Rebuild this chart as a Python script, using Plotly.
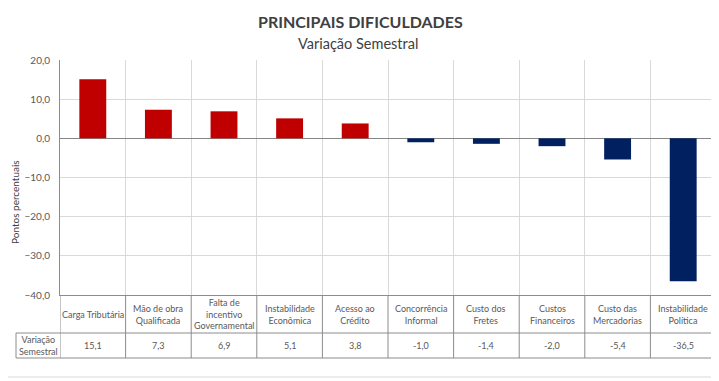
import plotly.graph_objects as go

categories = ["Carga Tributária", "Mão de obra<br>Qualificada", "Falta de<br>incentivo<br>Governamental",
              "Instabilidade<br>Econômica", "Acesso ao<br>Crédito", "Concorrência<br>Informal",
              "Custo dos<br>Fretes", "Custos<br>Financeiros", "Custo das<br>Mercadorias",
              "Instabilidade<br>Política"]
values = [15.1, 7.3, 6.9, 5.1, 3.8, -1.0, -1.4, -2.0, -5.4, -36.5]
series_name = "Variação<br>Semestral"
y_ticks = [-40, -30, -20, -10, 0, 10, 20]

# the page body has an 8px margin: lay out in window pixels and shift
OFF = 8
W, H = 719 - OFF, 381 - OFF
PL, PR, PT, PB = 60, 716, 60, 295  # plot area in window pixels
ML, MT = PL - OFF, PT - OFF
MR, MB = W - (PR - OFF), H - (PB - OFF)
PW, PH = W - ML - MR, H - MT - MB

def px_x(x):
    return (x - OFF - ML) / PW

def px_y(y):
    return 1 - (y - OFF - MT) / PH

FONT = "Lato, 'Open Sans', sans-serif"
GRAY_TXT = "#595959"
TBL = "#8c8c8c"
n = len(values)
xs = list(range(n))
colors = ["#C00000" if v >= 0 else "#002060" for v in values]

fig = go.Figure(go.Bar(x=xs, y=values, marker=dict(color=colors, line=dict(width=0)), width=0.41))

fig.update_layout(
    width=W, height=H, margin=dict(l=ML, r=MR, t=MT, b=MB),
    paper_bgcolor="white", plot_bgcolor="white", showlegend=False,
    separators=",.", font=dict(family=FONT, color=GRAY_TXT),
)
fig.update_xaxes(range=[-0.5, n - 0.5], tickvals=[i - 0.5 for i in range(n + 1)],
                 showticklabels=False, showgrid=True, gridcolor="#d9d9d9", gridwidth=1,
                 showline=True, linecolor=TBL, linewidth=1, zeroline=False, ticks="")
fig.update_yaxes(range=[-40, 20], tickvals=y_ticks, tickformat=".1f", showgrid=True,
                 gridcolor="#d9d9d9", zeroline=True, zerolinecolor="#868686", zerolinewidth=1,
                 showline=True, linecolor=TBL, linewidth=1, ticks="", ticklabelstandoff=7,
                 tickfont=dict(size=10, color=GRAY_TXT, family=FONT))

shapes = []
y_row1 = px_y(333)
y_row2 = px_y(358)
x_hdr = px_x(16)
shapes.append(dict(type="line", xref="paper", yref="paper", x0=x_hdr, x1=1, y0=y_row1, y1=y_row1, line=dict(color=TBL, width=1)))
shapes.append(dict(type="line", xref="paper", yref="paper", x0=x_hdr, x1=1, y0=y_row2, y1=y_row2, line=dict(color=TBL, width=1)))
for i in range(n + 1):
    shapes.append(dict(type="line", xref="x", yref="paper", x0=i - 0.5, x1=i - 0.5, y0=0, y1=y_row2, line=dict(color=TBL, width=1)))
shapes.append(dict(type="line", xref="paper", yref="paper", x0=x_hdr, x1=x_hdr, y0=y_row1, y1=y_row2, line=dict(color=TBL, width=1)))
# outer frame (right and bottom edges visible; left/top fall in the page margin)
shapes.append(dict(type="line", xref="paper", yref="paper", x0=px_x(718), x1=px_x(718), y0=px_y(0), y1=px_y(377),
                   line=dict(color="#d9d9d9", width=1)))
shapes.append(dict(type="line", xref="paper", yref="paper", x0=px_x(0), x1=px_x(718), y0=px_y(377), y1=px_y(377),
                   line=dict(color="#d9d9d9", width=1)))

ann = []
ann.append(dict(text="<b>PRINCIPAIS DIFICULDADES</b>", xref="paper", yref="paper", x=px_x(360), y=px_y(21),
                showarrow=False, font=dict(size=16, color="#404040", family=FONT), xanchor="center", yanchor="middle"))
ann.append(dict(text="Variação Semestral", xref="paper", yref="paper", x=px_x(358), y=px_y(44),
                showarrow=False, font=dict(size=14.5, color="#404040", family=FONT), xanchor="center", yanchor="middle"))
ann.append(dict(text="Pontos percentuais", xref="paper", yref="paper", x=px_x(15), y=px_y(202), textangle=-90,
                showarrow=False, font=dict(size=10, color="#404040", family=FONT), xanchor="center", yanchor="middle"))
for i, (c, v) in enumerate(zip(categories, values)):
    ann.append(dict(text=c, xref="x", yref="paper", x=i, y=px_y(314), showarrow=False,
                    font=dict(size=9, color=GRAY_TXT, family=FONT), xanchor="center", yanchor="middle"))
    ann.append(dict(text=f"{v:.1f}".replace(".", ","), xref="x", yref="paper", x=i, y=px_y(345.5), showarrow=False,
                    font=dict(size=9, color=GRAY_TXT, family=FONT), xanchor="center", yanchor="middle"))
ann.append(dict(text=series_name, xref="paper", yref="paper", x=px_x(38), y=px_y(345.5), showarrow=False,
                font=dict(size=9, color=GRAY_TXT, family=FONT), xanchor="center", yanchor="middle"))

fig.update_layout(shapes=shapes, annotations=ann)
fig.write_html("out.html")
